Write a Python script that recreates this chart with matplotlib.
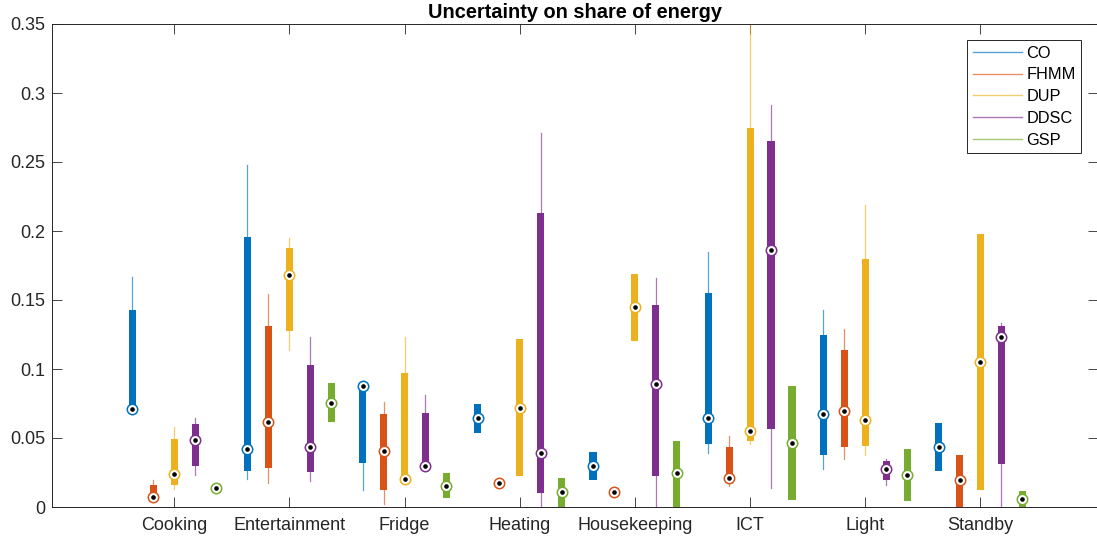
import numpy as np
import matplotlib
matplotlib.use('Agg')
import matplotlib.pyplot as plt
from matplotlib.lines import Line2D

plt.rcParams['font.family'] = ['Liberation Sans', 'DejaVu Sans']

categories = ['Cooking', 'Entertainment', 'Fridge', 'Heating', 'Housekeeping', 'ICT', 'Light', 'Standby']
methods = ['CO', 'FHMM', 'DUP', 'DDSC', 'GSP']
colors = ['#0072BD', '#D95319', '#EDB120', '#7E2F8E', '#77AC30']

# low whisker, q1, median, q3, high whisker per category
co_lo = [0.069, 0.020, 0.0125, 0.0536, 0.0193, 0.0388, 0.0275, 0.026]
co_q1 = [0.069, 0.026, 0.0318, 0.0536, 0.0193, 0.0455, 0.0375, 0.026]
co_med = [0.071, 0.0418, 0.0876, 0.0643, 0.0298, 0.0648, 0.0676, 0.0435]
co_q3 = [0.143, 0.196, 0.089, 0.0748, 0.040, 0.155, 0.1244, 0.0608]
co_hi = [0.167, 0.248, 0.089, 0.0748, 0.040, 0.185, 0.143, 0.0608]

fhmm_lo = [0.0055, 0.0173, 0.0025, 0.016, 0.0095, 0.0155, 0.0348, 0.0]
fhmm_q1 = [0.0055, 0.028, 0.012, 0.016, 0.0095, 0.018, 0.0435, 0.0]
fhmm_med = [0.0073, 0.0616, 0.0403, 0.0173, 0.011, 0.0208, 0.0698, 0.0198]
fhmm_q3 = [0.0163, 0.131, 0.0673, 0.0185, 0.0125, 0.0438, 0.1139, 0.038]
fhmm_hi = [0.0198, 0.154, 0.076, 0.0185, 0.0125, 0.0518, 0.129, 0.038]

dup_lo = [0.013, 0.114, 0.019, 0.0223, 0.1206, 0.046, 0.038, 0.0123]
dup_q1 = [0.016, 0.1276, 0.019, 0.0223, 0.1206, 0.048, 0.0443, 0.0123]
dup_med = [0.0238, 0.168, 0.020, 0.0718, 0.1449, 0.0553, 0.063, 0.1054]
dup_q3 = [0.0493, 0.188, 0.0973, 0.1216, 0.1687, 0.2743, 0.180, 0.198]
dup_hi = [0.058, 0.195, 0.123, 0.1216, 0.1687, 0.36, 0.219, 0.198]

ddsc_lo = [0.0235, 0.019, 0.029, 0.0, 0.0, 0.0135, 0.0163, 0.0]
ddsc_q1 = [0.0298, 0.0253, 0.029, 0.0105, 0.0225, 0.0568, 0.0193, 0.0313]
ddsc_med = [0.0488, 0.0435, 0.0298, 0.0393, 0.0893, 0.1864, 0.0273, 0.1231]
ddsc_q3 = [0.0603, 0.103, 0.0678, 0.2127, 0.1464, 0.265, 0.033, 0.131]
ddsc_hi = [0.0643, 0.123, 0.081, 0.2708, 0.1657, 0.2915, 0.035, 0.1336]

gsp_lo = [0.012, 0.0613, 0.0063, 0.0, 0.0, 0.005, 0.0043, 0.0]
gsp_q1 = [0.012, 0.0613, 0.0063, 0.0, 0.0, 0.005, 0.0043, 0.0]
gsp_med = [0.0135, 0.0753, 0.0155, 0.011, 0.0243, 0.0463, 0.0235, 0.006]
gsp_q3 = [0.015, 0.0898, 0.0248, 0.021, 0.0478, 0.0876, 0.0423, 0.0118]
gsp_hi = [0.015, 0.0898, 0.0248, 0.021, 0.0478, 0.0876, 0.0423, 0.0118]

yticks = [0, 0.05, 0.1, 0.15, 0.2, 0.25, 0.3, 0.35]
ytick_labels = ['0', '0.05', '0.1', '0.15', '0.2', '0.25', '0.3', '0.35']

series = [
    (co_lo, co_q1, co_med, co_q3, co_hi),
    (fhmm_lo, fhmm_q1, fhmm_med, fhmm_q3, fhmm_hi),
    (dup_lo, dup_q1, dup_med, dup_q3, dup_hi),
    (ddsc_lo, ddsc_q1, ddsc_med, ddsc_q3, ddsc_hi),
    (gsp_lo, gsp_q1, gsp_med, gsp_q3, gsp_hi),
]


def main():
    fig = plt.figure(figsize=(10.97, 5.42), dpi=100)
    ax = fig.add_axes([52 / 1097, 35 / 542, 1046 / 1097, 483 / 542])

    x = np.arange(len(categories))
    offsets = [-0.364, -0.182, 0.0, 0.182, 0.364]
    for (lo, q1, med, q3, hi), off, color in zip(series, offsets, colors):
        stats = [dict(whislo=a, q1=b, med=c, q3=d, whishi=e)
                 for a, b, c, d, e in zip(lo, q1, med, q3, hi)]
        ax.bxp(stats, positions=x + off, widths=0.062, patch_artist=True,
               showcaps=False, showfliers=False,
               boxprops=dict(facecolor=color, edgecolor=color, linewidth=0),
               whiskerprops=dict(color=color, linewidth=0.9, alpha=0.65),
               medianprops=dict(linewidth=0))
        ax.plot(x + off, med, 'o', ms=7.5, mfc='white', mec=color, mew=1.1,
                zorder=5, clip_on=False)
        ax.plot(x + off, med, 'o', ms=2.3, mfc='black', mec='black',
                zorder=6, clip_on=False)

    ax.set_xlim(-1.06, 8.02)
    ax.set_ylim(0, 0.35)
    ax.set_xticks(x)
    ax.set_xticklabels(categories)
    ax.set_yticks(yticks)
    ax.set_yticklabels(ytick_labels)
    ax.tick_params(direction='in', top=True, right=True, length=7.2,
                   width=0.6, color='#262626', labelcolor='#262626',
                   labelsize=13, pad=5)
    ax.tick_params(axis='x', pad=7)
    for sp in ax.spines.values():
        sp.set_color('#262626')
        sp.set_linewidth(0.7)

    ax.set_title('Uncertainty on share of energy', fontsize=14.4,
                 fontweight='bold', pad=4)

    handles = [Line2D([0], [0], color=c, lw=1.0, alpha=0.65) for c in colors]
    leg = ax.legend(handles, methods, loc='upper right',
                    bbox_to_anchor=(0.984, 0.967), borderaxespad=0,
                    fontsize=11.8, handlelength=3.0, handletextpad=0.25,
                    labelspacing=0.41, fancybox=False, framealpha=1,
                    borderpad=0.35)
    leg.get_frame().set_edgecolor('#262626')
    leg.get_frame().set_linewidth(0.7)

    fig.savefig('out.png', dpi=100)


if __name__ == '__main__':
    main()
